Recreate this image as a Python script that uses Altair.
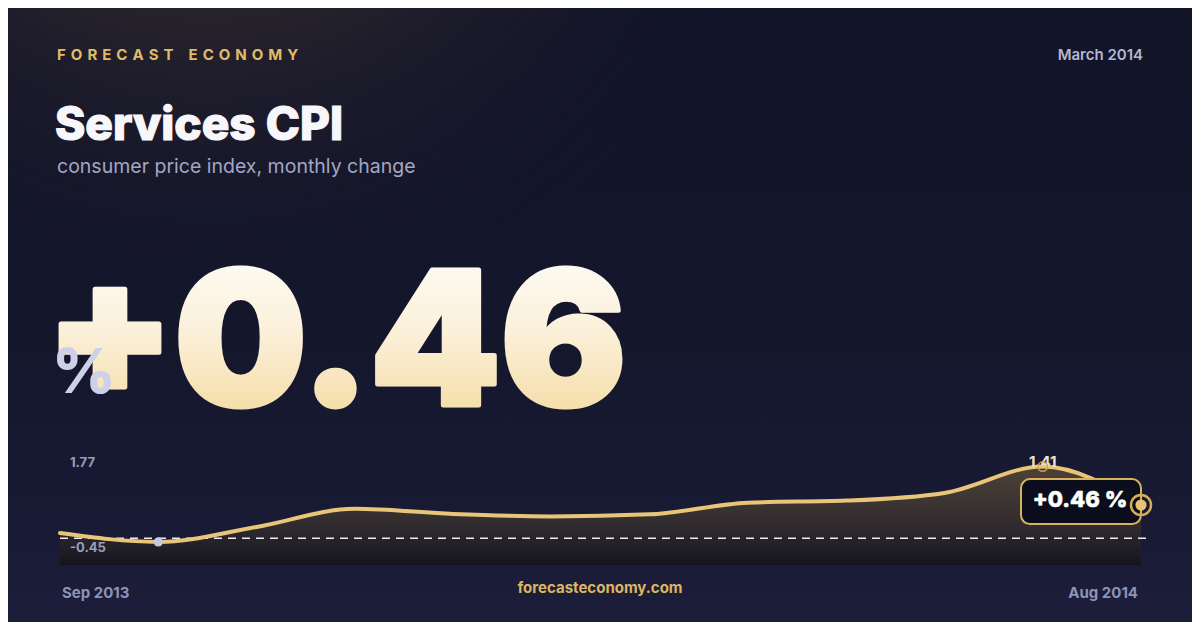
import altair as alt
import pandas as pd

# ---------------- data ----------------
month_labels = ["Sep 2013", "Oct 2013", "Nov 2013", "Dec 2013", "Jan 2014", "Feb 2014",
                "Mar 2014", "Apr 2014", "May 2014", "Jun 2014", "Jul 2014", "Aug 2014"]
values = [-0.23, -0.45, -0.08, 0.37, 0.24, 0.18, 0.23, 0.52, 0.57, 0.76, 1.41, 0.46]
scale_top = 1.77
scale_bottom = -1.02
ref_level = -0.36
range_label_values = [1.77, -0.45]
range_label_texts = ["1.77", "-0.45"]
SP = "\u2004"
brand = SP.join("FORECAST") + SP * 3 + SP.join("ECONOMY")
date_text = "March 2014"
title_text = "Services CPI"
subtitle_text = "consumer price index, monthly change"
site_text = "forecasteconomy.com"

FONT = "Inter"
W, H = 1184, 614

df = pd.DataFrame({"i": list(range(len(values))), "month": month_labels, "v": values})
one = pd.DataFrame({"k": [0]})

x_enc = alt.X("i:Q", scale=alt.Scale(domain=[0, len(values) - 1], range=[52, 1133]), axis=None)
y_enc = alt.Y("v:Q", scale=alt.Scale(domain=[scale_bottom, scale_top], range=[557, 444]), axis=None)

# ---------------- background ----------------
bg_lin = alt.LinearGradient(gradient="linear", x1=0, y1=0, x2=0, y2=1,
                            stops=[alt.GradientStop(color="#121428", offset=0),
                                   alt.GradientStop(color="#14162b", offset=0.5),
                                   alt.GradientStop(color="#1b1d3a", offset=1)])
bg_glow = alt.RadialGradient(gradient="radial", x1=0.17, y1=0.0, r1=0, x2=0.17, y2=0.0, r2=0.5,
                             stops=[alt.GradientStop(color="rgba(80,67,54,1)", offset=0),
                                    alt.GradientStop(color="rgba(64,54,46,0.85)", offset=0.3),
                                    alt.GradientStop(color="rgba(44,38,46,0.45)", offset=0.62),
                                    alt.GradientStop(color="rgba(20,22,44,0)", offset=1)])

bg1 = alt.Chart(one).mark_rect(fill=bg_lin).encode(
    x=alt.value(0), x2=alt.value(W), y=alt.value(0), y2=alt.value(H))
bg2 = alt.Chart(one).mark_rect(fill=bg_glow).encode(
    x=alt.value(0), x2=alt.value(W), y=alt.value(0), y2=alt.value(H))

# ---------------- header texts ----------------
def label(text, x, y, size, weight, color, align="left", baseline="alphabetic", **kw):
    return alt.Chart(one).mark_text(text=text, font=FONT, fontSize=size, fontWeight=weight,
                                    color=color, align=align, baseline=baseline, **kw).encode(
        x=alt.value(x), y=alt.value(y))

brand_t = label(brand, 49, 52, 15, 700, "#e2bb66")
date_t = label(date_text, 1135, 52, 15, 600, "#b4b7d3", align="right")
title_t = label(title_text, 47, 132, 46, 800, "#f6f6fb", stroke="#f6f6fb", strokeWidth=1.2)
sub_t = label(subtitle_text, 49, 165, 19.5, 400, "#a3a6c5")

# big headline number
big_df = pd.DataFrame({"t": [f"{values[-1]:+.2f}"]})
big_grad = alt.LinearGradient(gradient="linear", x1=0, y1=0, x2=0, y2=1,
                              stops=[alt.GradientStop(color="#ffffff", offset=0),
                                     alt.GradientStop(color="#fbf1dc", offset=0.45),
                                     alt.GradientStop(color="#f2d594", offset=1)])
big_t = alt.Chart(big_df).mark_text(font=FONT, fontSize=186, fontWeight=900, fill=big_grad,
                                    stroke=big_grad, strokeWidth=5, strokeJoin="round",
                                    align="left", baseline="alphabetic").encode(
    x=alt.value(37.5), y=alt.value(397), text="t:N")
pct_t = label("%", 44, 385, 62, 800, "#cdd0e8")

# ---------------- sparkline ----------------
area_grad = alt.LinearGradient(gradient="linear", x1=0, y1=0, x2=0, y2=1,
                               stops=[alt.GradientStop(color="#4d4237", offset=0),
                                      alt.GradientStop(color="#332d2f", offset=0.55),
                                      alt.GradientStop(color="#27232b", offset=0.75),
                                      alt.GradientStop(color="#15141c", offset=1)])
base = alt.Chart(df)
area = base.mark_area(interpolate="monotone", fill=area_grad).encode(
    x=x_enc, y=y_enc, y2=alt.datum(scale_bottom))

rule_df = pd.DataFrame({"x0": [0], "x1": [len(values) - 1], "y": [ref_level]})
rule = alt.Chart(rule_df).mark_rule(color="#ecebf3", strokeWidth=1.5, strokeDash=[8, 6],
                                    x2Offset=5).encode(
    x=alt.X("x0:Q", scale=alt.Scale(domain=[0, len(values) - 1], range=[52, 1133]), axis=None),
    x2="x1:Q",
    y=alt.Y("y:Q", scale=alt.Scale(domain=[scale_bottom, scale_top], range=[557, 444]), axis=None))

line = base.mark_line(interpolate="monotone", color="#e9c677", strokeWidth=4,
                      strokeCap="round", strokeJoin="round").encode(x=x_enc, y=y_enc)

minpt = base.transform_joinaggregate(vmin="min(v)").transform_filter(
    "datum.v == datum.vmin").mark_circle(size=85, color="#c5c8e0", opacity=1).encode(x=x_enc, y=y_enc)

peak = base.transform_joinaggregate(vmax="max(v)").transform_filter("datum.v == datum.vmax")
peak_txt = peak.mark_text(font=FONT, fontSize=15, fontWeight=700, color="#efe4cc",
                          baseline="alphabetic").encode(
    x=x_enc, y=y_enc, text=alt.Text("v:Q", format=".2f"))
peak_ring = peak.mark_point(shape="circle", filled=False, size=90, stroke="#cfa24d",
                            strokeWidth=1.5, opacity=1).encode(x=x_enc, y=y_enc)

last = base.transform_joinaggregate(imax="max(i)").transform_filter("datum.i == datum.imax")
box = last.mark_rect(cornerRadius=9, fill="#0b0d1c", stroke="#d8b25c", strokeWidth=2,
                     xOffset=-120, x2Offset=0, yOffset=-26, y2Offset=19).encode(
    x=x_enc, x2="i:Q", y=y_enc, y2="v:Q")
box_txt = last.transform_calculate(lbl="format(datum.v, '+.2f') + ' %'").mark_text(
    font=FONT, fontSize=22, fontWeight=800, color="#ffffff", stroke="#ffffff", strokeWidth=0.6,
    align="center", baseline="middle", dx=-61, dy=-5).encode(x=x_enc, y=y_enc, text="lbl:N")
end_ring = last.mark_point(shape="circle", filled=False, size=400, stroke="#d6ad57",
                           strokeWidth=2.5, opacity=1).encode(x=x_enc, y=y_enc)
end_dot = last.mark_circle(size=125, color="#e6c272", opacity=1).encode(x=x_enc, y=y_enc)

rl_df = pd.DataFrame({"v": range_label_values, "t": range_label_texts})
rl_base = alt.Chart(rl_df)
range_top = rl_base.transform_filter(alt.datum.v == range_label_values[0]).mark_text(
    font=FONT, fontSize=13, fontWeight=700, color="#9a9dbd", align="left", baseline="top",
    dy=5).encode(x=alt.value(62), y=y_enc, text="t:N")
range_bot = rl_base.transform_filter(alt.datum.v == range_label_values[1]).mark_text(
    font=FONT, fontSize=13, fontWeight=700, color="#9a9dbd", align="left", baseline="top",
    dy=0).encode(x=alt.value(62), y=y_enc, text="t:N")

# ---------------- footer ----------------
first_m = base.transform_filter("datum.i == 0").mark_text(
    font=FONT, fontSize=15, fontWeight=700, color="#8e93b8", align="left", dx=2).encode(
    x=x_enc, y=alt.value(585), text="month:N")
last_m = last.mark_text(font=FONT, fontSize=15, fontWeight=700, color="#8e93b8",
                        align="right", dx=-3).encode(x=x_enc, y=alt.value(585), text="month:N")
site_t = label(site_text, 592, 585, 15, 700, "#dcb660", align="center")

chart = alt.layer(
    bg1, bg2, brand_t, date_t, title_t, sub_t, big_t, pct_t,
    area, rule, line, minpt, peak_txt, peak_ring, box, box_txt, end_ring, end_dot,
    range_top, range_bot, first_m, last_m, site_t
).properties(
    width=W, height=H, padding=0, autosize=alt.AutoSizeParams(type="none")
).configure(background="#14162c").configure_view(stroke=None)

chart.save("out.html", embed_options={"renderer": "svg", "actions": False})
